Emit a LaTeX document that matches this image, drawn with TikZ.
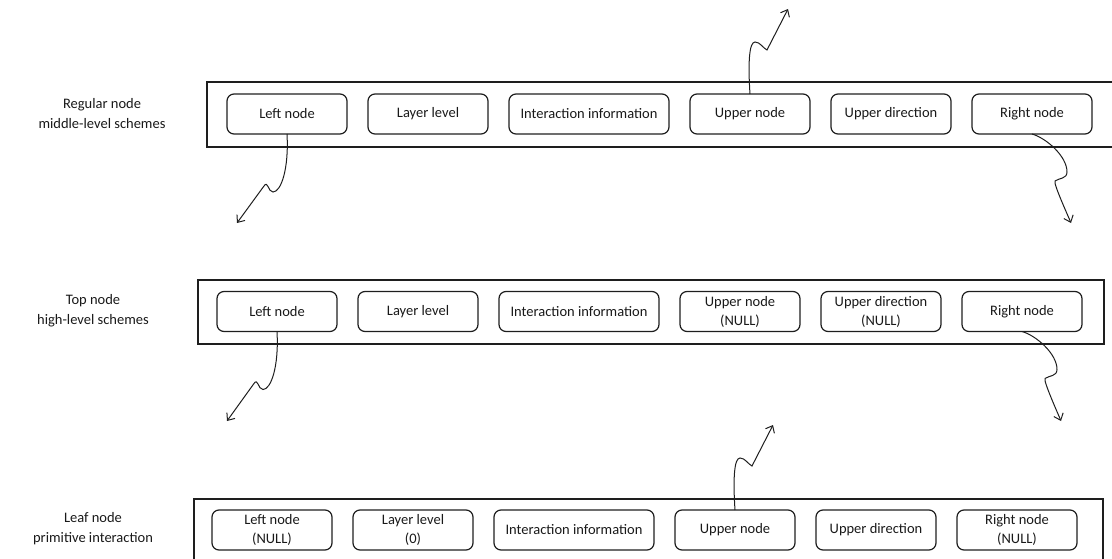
\documentclass[tikz,border=0pt]{standalone}
\usepackage{fontspec}
\setmainfont{Carlito}
\usepackage{tikz}
\usetikzlibrary{positioning,arrows.meta}
\definecolor{tinta}{RGB}{30,30,30}
\definecolor{gristexto}{RGB}{25,25,25}

\tikzset{
  onda izq/.style={to path={.. controls +(2,35) and +(8,0) .. ++(-14,58)
      .. controls +(-5,0) and +(4,-6) .. ++(-9,-6) -- (\tikztotarget)}},
  onda der/.style={to path={.. controls +(14,4) and +(0,-16) .. ++(35,38)
      .. controls +(0,7) and +(4,-3) .. ++(-12,9)
      .. controls +(-2,2) and +(-2,-5) .. (\tikztotarget)}},
  onda arriba/.style={to path={.. controls +(-2,-30) and +(-6,0) .. ++(5,-52)
      .. controls +(5,0) and +(-4,-2) .. ++(12,8) -- (\tikztotarget)}}
}

\begin{document}
\begin{tikzpicture}[
  x=1pt, y=-1pt,
  campo/.style={draw=tinta, line width=1.2pt, rounded corners=7pt, minimum width=120pt,
    minimum height=40pt, inner sep=2pt, outer sep=0pt, align=center,
    font=\fontsize{14.5}{19}\selectfont, text=gristexto},
  ancho/.style={minimum width=160pt},
  marco/.style={draw=tinta, line width=1.4pt},
  etq/.style={align=center, font=\fontsize{14.5}{20}\selectfont, text=gristexto},
  flecha/.style={draw=tinta, line width=1pt, -{Straight Barb[length=6pt,width=10pt]}}
]
\useasboundingbox (0,0) rectangle (1112,559);
\clip (0,0) rectangle (1112,559);

% Regular node
\draw[marco] (207,82) rectangle (1130,147);
\node[etq] (eregular) at (102,114) {Regular node\\middle-level schemes};
\node[campo] (izq1) at (287,114) {Left node};
\node[campo, right=21pt of izq1] (niv1) {Layer level};
\node[campo, ancho, right=21pt of niv1] (inter1) {Interaction information};
\node[campo, right=21pt of inter1] (sup1) {Upper node};
\node[campo, right=21pt of sup1] (dir1) {Upper direction};
\node[campo, right=21pt of dir1] (der1) {Right node};

% Top node
\draw[marco] (198,280) rectangle (1104,344);
\node[etq] (etop) at (93,311) {Top node\\high-level schemes};
\node[campo] (izq2) at (277,311.5) {Left node};
\node[campo, right=21pt of izq2] (niv2) {Layer level};
\node[campo, ancho, right=21pt of niv2] (inter2) {Interaction information};
\node[campo, right=21pt of inter2] (sup2) {Upper node\\(NULL)};
\node[campo, right=21pt of sup2] (dir2) {Upper direction\\(NULL)};
\node[campo, right=21pt of dir2] (der2) {Right node};

% Leaf node
\draw[marco] (194,499) rectangle (1103,580);
\node[etq] (eleaf) at (93,529) {Leaf node\\primitive interaction};
\node[campo] (izq3) at (272,530) {Left node\\(NULL)};
\node[campo, right=21pt of izq3] (niv3) {Layer level\\(0)};
\node[campo, ancho, right=21pt of niv3] (inter3) {Interaction information};
\node[campo, right=21pt of inter3] (sup3) {Upper node};
\node[campo, right=21pt of sup3] (dir3) {Upper direction};
\node[campo, right=21pt of dir3] (der3) {Right node\\(NULL)};

% punteros
\coordinate (fsup1) at (788,9);
\coordinate (fizq1) at (237,223);
\coordinate (fder1) at (1071,223);
\coordinate (fizq2) at (227,421);
\coordinate (fder2) at (1061,421);
\coordinate (fsup3) at (773,425);
\draw[flecha] (sup1.north) to[onda arriba] (fsup1);
\draw[flecha] (izq1.south) to[onda izq] (fizq1);
\draw[flecha] (der1.south) to[onda der] (fder1);
\draw[flecha] (izq2.south) to[onda izq] (fizq2);
\draw[flecha] (der2.south) to[onda der] (fder2);
\draw[flecha] (sup3.north) to[onda arriba] (fsup3);
\end{tikzpicture}
\end{document}
